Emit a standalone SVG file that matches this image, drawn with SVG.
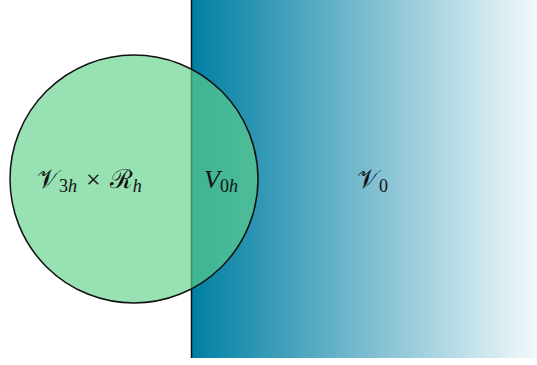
<svg xmlns="http://www.w3.org/2000/svg" width="537" height="365" viewBox="0 0 537 365">
<style>
.t{font-family:"Liberation Serif","DejaVu Serif",serif;font-size:26px;fill:#111;}
.i{font-style:italic;}
.s{font-size:18px;}
</style>
<defs>
<linearGradient id="g" x1="0" y1="0" x2="1" y2="0">
<stop offset="0" stop-color="#007fa3"/>
<stop offset="1" stop-color="#f2f9fb"/>
</linearGradient>
</defs>
<rect width="537" height="365" fill="#fff"/>
<g id="V0">
<rect x="191.5" y="0" width="345.5" height="358" fill="url(#g)"/>
<line x1="191.5" y1="0" x2="191.5" y2="358" stroke="#111" stroke-width="1.5"/>
<text class="t" x="357" y="188">𝒱<tspan class="s" dy="4">0</tspan></text>
</g>
<g id="ball">
<circle cx="134" cy="179" r="124" fill="#5fd18a" fill-opacity="0.65" stroke="#111" stroke-width="1.5"/>
<text class="t" x="37" y="188">𝒱<tspan class="s" dy="4">3</tspan><tspan class="s i">h</tspan><tspan dy="-4" dx="9">×</tspan><tspan dx="9">ℛ</tspan><tspan class="s i" dy="4">h</tspan></text>
<text class="t i" x="204" y="188">V<tspan class="s" dy="4" font-style="normal">0</tspan><tspan class="s">h</tspan></text>
</g>
</svg>
